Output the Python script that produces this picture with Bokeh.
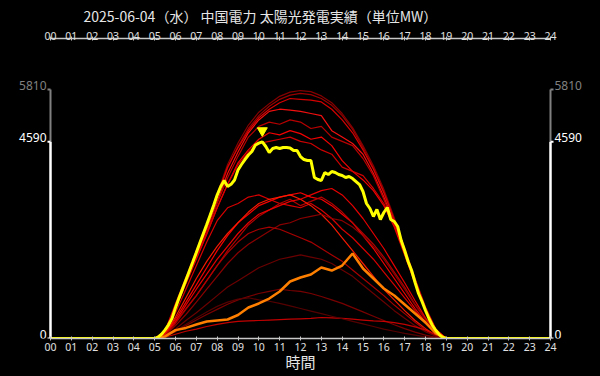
import numpy as np
from bokeh.plotting import figure
from bokeh.models import LinearAxis, FixedTicker, Range1d, Title
from bokeh.core.properties import value
from bokeh.embed import file_html
from bokeh.resources import INLINE

TITLE = "2025-06-04（水） 中国電力 太陽光発電実績（単位MW）"
X_LABEL = "時間"
HOUR_TICKS = list(range(0, 25))
HOUR_LABELS = ["%02d" % h for h in HOUR_TICKS]
Y_TICKS_WHITE = [0, 4590]
Y_TICK_GRAY = 5810

# 30-minute grid, 05:00 .. 19:00
HOURS_30 = [5.0, 5.5, 6.0, 6.5, 7.0, 7.5, 8.0, 8.5, 9.0, 9.5, 10.0, 10.5, 11.0, 11.5,
            12.0, 12.5, 13.0, 13.5, 14.0, 14.5, 15.0, 15.5, 16.0, 16.5, 17.0, 17.5,
            18.0, 18.5, 19.0]

# past days (red)
r01 = [0, 180, 820, 1430, 2060, 2680, 3380, 4060, 4560, 4980, 5280, 5480, 5650, 5750, 5786, 5760, 5660, 5500, 5250, 4920, 4500, 4030, 3480, 2820, 2120, 1400, 740, 220, 0]
r02 = [0, 160, 780, 1380, 2000, 2620, 3300, 3980, 4480, 4900, 5200, 5420, 5580, 5680, 5720, 5690, 5600, 5440, 5200, 4880, 4450, 3980, 3430, 2780, 2080, 1380, 720, 210, 0]
r03 = [0, 170, 800, 1400, 2030, 2650, 3330, 4000, 4450, 4850, 5150, 5350, 5500, 5600, 5580, 5560, 5520, 5350, 5100, 4800, 4400, 3950, 3400, 2760, 2070, 1370, 710, 200, 0]
r04 = [0, 150, 760, 1350, 1950, 2550, 3200, 3850, 4350, 4800, 5100, 5300, 5350, 5330, 5300, 5250, 5200, 4850, 4700, 4550, 4300, 3850, 3300, 2700, 2000, 1330, 690, 200, 0]
r05 = [0, 150, 740, 1320, 1920, 2500, 3150, 3750, 4250, 4700, 4950, 5050, 5000, 5100, 5050, 4900, 4950, 4700, 4600, 4500, 4200, 3800, 3250, 2650, 1980, 1300, 680, 190, 0]
r06 = [0, 140, 700, 1280, 1850, 2430, 3050, 3600, 4100, 4400, 4650, 4800, 4750, 4850, 4780, 4650, 4700, 4500, 4150, 3900, 3700, 3450, 3100, 2600, 1950, 1280, 660, 190, 0]
r07 = [0, 140, 720, 1300, 1880, 2450, 3050, 3600, 4050, 4350, 4550, 4600, 4650, 4700, 4600, 4550, 4400, 4300, 4000, 3900, 3800, 3500, 3150, 2650, 2000, 1300, 670, 190, 0]
r08 = [0, 90, 450, 850, 1250, 1650, 2050, 2400, 2700, 2900, 3100, 3200, 3300, 3350, 3400, 3300, 3250, 3100, 2900, 2700, 2400, 2100, 1750, 1400, 1050, 700, 380, 120, 0]
r09 = [0, 120, 600, 1150, 1700, 2250, 2750, 3050, 3150, 3300, 3350, 3250, 3150, 3100, 3050, 3150, 3000, 2800, 2550, 2350, 2100, 1850, 1550, 1250, 950, 650, 350, 110, 0]
r10 = [0, 80, 380, 700, 1000, 1350, 1700, 2050, 2350, 2650, 2850, 3000, 3150, 3250, 3100, 3200, 3300, 3150, 2950, 2700, 2450, 2200, 1900, 1550, 1200, 800, 450, 140, 0]
r11 = [0, 100, 500, 950, 1400, 1800, 2150, 2450, 2700, 2950, 3150, 3250, 3300, 3350, 3250, 3100, 2900, 2650, 2350, 2050, 1750, 1450, 1150, 900, 650, 420, 230, 70, 0]
r12 = [0, 60, 300, 560, 850, 1150, 1450, 1750, 2000, 2200, 2350, 2500, 2650, 2700, 2800, 2850, 2900, 2800, 2750, 2600, 2400, 2150, 1850, 1500, 1150, 780, 430, 130, 0]
r13 = [0, 80, 400, 780, 1150, 1500, 1850, 2150, 2450, 2700, 2900, 3000, 3100, 3200, 3250, 3350, 3450, 3500, 3350, 3100, 2800, 2450, 2100, 1700, 1300, 880, 480, 150, 0]
r14 = [0, 70, 350, 680, 1000, 1350, 1700, 2000, 2250, 2450, 2550, 2600, 2550, 2450, 2350, 2250, 2100, 1950, 1800, 1600, 1400, 1200, 1000, 780, 580, 380, 200, 60, 0]
r15 = [0, 50, 220, 420, 600, 800, 1000, 1200, 1350, 1500, 1650, 1750, 1850, 1900, 1950, 1900, 1850, 1750, 1600, 1450, 1250, 1050, 850, 650, 470, 300, 160, 50, 0]
r16 = [0, 40, 160, 300, 430, 560, 680, 800, 900, 980, 1050, 1100, 1150, 1120, 1100, 1050, 980, 900, 820, 720, 620, 520, 420, 320, 230, 150, 80, 25, 0]
r17 = [0, 30, 100, 170, 220, 280, 330, 370, 400, 410, 420, 430, 440, 450, 460, 470, 490, 480, 470, 450, 430, 410, 400, 370, 330, 270, 200, 100, 0]
r18 = [0, 40, 180, 330, 480, 620, 750, 850, 920, 950, 900, 870, 820, 760, 700, 640, 580, 520, 460, 400, 340, 280, 220, 170, 120, 80, 40, 10, 0]
RED_SERIES = [r01, r02, r03, r04, r05, r06, r07, r08, r09, r10, r11, r12, r13, r14, r15, r16, r17, r18]
RED_COLORS = ["#8a0000", "#a00000", "#e00000", "#ff1010", "#c00000", "#ff0000", "#d80000",
              "#ff0000", "#e00000", "#b80000", "#ff1a00", "#900000", "#f00000", "#b00000",
              "#700000", "#800000", "#cc0000", "#5a0000"]

# low day (orange)
orange = [0, 50, 196, 247, 327, 397, 420, 443, 548, 723, 817, 933, 1097, 1330, 1423, 1493, 1656, 1586, 1703, 1983, 1633, 1400, 1167, 1003, 793, 583, 373, 117, 0]

# today (yellow), 10-minute grid 05:00 .. 19:00
today = [0, 30, 100, 200, 320, 470,
         720, 943, 1153, 1365, 1577, 1790,
         2006, 2228, 2443, 2660, 2884, 3110,
         3346, 3541, 3686, 3546, 3597, 3698,
         3931, 4060, 4176, 4281, 4363, 4514,
         4560, 4590, 4480, 4340, 4433, 4456,
         4433, 4456, 4456, 4445, 4386, 4386,
         4246, 4176, 4153, 4153, 3756, 3709,
         3686, 3873, 3826, 3896, 3873, 3826,
         3803, 3756, 3779, 3733, 3663, 3593,
         3430, 3150, 3033, 2846, 3010, 2776,
         2940, 3056, 2776, 2730, 2613, 2286,
         2053, 1796, 1586, 1306, 1050, 863,
         653, 467, 303, 187, 93, 23,
         0]
HOURS_10 = list(np.arange(5 * 6, 19 * 6 + 1) / 6.0)


def full(xs, ys):
    return [0.0] + list(xs) + [24.0], [0] + list(ys) + [0]


FONT = "Noto Sans CJK JP"
PX_PER_H = 500 / 24.0
PAD_H = 50 / PX_PER_H

p = figure(width=600, height=376,
           x_range=Range1d(-PAD_H, 24 + PAD_H), y_range=Range1d(0, 7000),
           output_backend="svg", toolbar_location=None,
           x_axis_type=None, y_axis_type=None,
           background_fill_color="black", border_fill_color="black",
           min_border_left=0, min_border_right=0, min_border_top=38, min_border_bottom=38)
p.styles = {"background-color": "black"}
p.outline_line_color = None
p.xgrid.visible = False
p.ygrid.visible = False

for vals, col in zip(RED_SERIES, RED_COLORS):
    xs, ys = full(HOURS_30, vals)
    p.line(xs, ys, line_color=col, line_width=1.2, line_alpha=0.95)

xs, ys = full(HOURS_30, orange)
p.line(xs, ys, line_color="#ff8000", line_width=2.5)

xs, ys = full(HOURS_10, today)
p.line(xs, ys, line_color="#ffff00", line_width=3)

imax = int(np.argmax(today))
p.scatter([HOURS_10[imax]], [today[imax] + 260], marker="inverted_triangle",
          size=10, color="#ffff00")


def xaxis(standoff, label=None):
    ax = LinearAxis(ticker=FixedTicker(ticks=HOUR_TICKS), bounds=(0, 24),
                    major_label_overrides={h: l for h, l in zip(HOUR_TICKS, HOUR_LABELS)})
    ax.axis_line_color = "#c8c8c8"
    ax.axis_line_width = 1.5
    ax.major_tick_line_color = "#c8c8c8"
    ax.major_tick_in = 2
    ax.major_tick_out = 2
    ax.minor_tick_line_color = None
    ax.major_label_text_color = "#e0e0e0"
    ax.major_label_text_font = "Noto Sans"
    ax.major_label_text_font_size = "10.5px"
    ax.major_label_standoff = standoff
    if label:
        ax.axis_label = label
        ax.axis_label_text_font = FONT
        ax.axis_label_text_font_size = "15px"
        ax.axis_label_text_font_style = "normal"
        ax.axis_label_text_color = "#e6e6e6"
        ax.axis_label_standoff = -3
    return ax


p.add_layout(xaxis(2, X_LABEL), "below")
p.add_layout(xaxis(-3), "above")

title = Title(text=TITLE, align="left", offset=83, standoff=5,
              text_font=FONT, text_font_size="14px", text_color="#e6e6e6",
              text_font_style="normal")
p.add_layout(title, "above")

# vertical scales at 00h and 24h
tick_len = 3 / PX_PER_H
for x0, sgn, align in [(0, -1, "right"), (24, 1, "left")]:
    p.segment(x0=[x0], y0=[0], x1=[x0], y1=[Y_TICKS_WHITE[-1]], line_color="white", line_width=2.5)
    p.segment(x0=[x0], y0=[Y_TICKS_WHITE[-1]], x1=[x0], y1=[Y_TICK_GRAY], line_color="#808080", line_width=2)
    p.segment(x0=[x0] * len(Y_TICKS_WHITE), y0=Y_TICKS_WHITE,
              x1=[x0 + sgn * tick_len] * len(Y_TICKS_WHITE), y1=Y_TICKS_WHITE,
              line_color="white", line_width=2)
    p.segment(x0=[x0], y0=[Y_TICK_GRAY], x1=[x0 + sgn * tick_len], y1=[Y_TICK_GRAY],
              line_color="#808080", line_width=2)
    p.text(x=[x0] * len(Y_TICKS_WHITE), y=Y_TICKS_WHITE, text=[str(v) for v in Y_TICKS_WHITE],
           x_offset=sgn * 4, y_offset=-4, text_align=align, text_baseline="middle",
           text_color="white", text_font=value("Noto Sans"), text_font_size=value("12px"))
    p.text(x=[x0], y=[Y_TICK_GRAY], text=[str(Y_TICK_GRAY)],
           x_offset=sgn * 4, y_offset=-4, text_align=align, text_baseline="middle",
           text_color="#808080", text_font=value("Noto Sans"), text_font_size=value("12px"))

open("out.html", "w").write(file_html(p, INLINE))
